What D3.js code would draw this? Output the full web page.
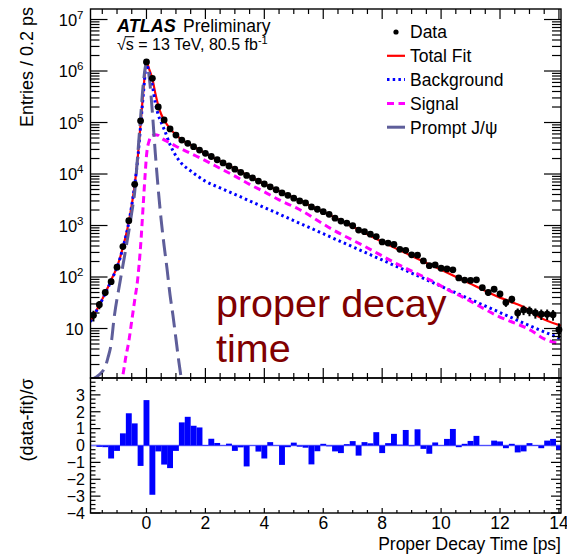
<!DOCTYPE html>
<html><head><meta charset="utf-8">
<script src="https://cdn.jsdelivr.net/npm/d3@7"></script>
<style>
body{margin:0;background:#fff;}
svg{display:block;font-family:"Liberation Sans",Arial,Helvetica,sans-serif;}
</style>
</head><body>
<svg id="c" width="567" height="555"></svg>
<script>
// ---------------- DATA ----------------
const binTime = [-1.8,-1.6,-1.4,-1.2,-1.0,-0.8,-0.6,-0.4,-0.2,0,0.2,0.4,0.6,0.8,1.0,1.2,1.4,1.6,1.8,2.0,2.2,2.4,2.6,2.8,3.0,3.2,3.4,3.6,3.8,4.0,4.2,4.4,4.6,4.8,5.0,5.2,5.4,5.6,5.8,6.0,6.2,6.4,6.6,6.8,7.0,7.2,7.4,7.6,7.8,8.0,8.2,8.4,8.6,8.8,9.0,9.2,9.4,9.6,9.8,10.0,10.2,10.4,10.6,10.8,11.0,11.2,11.4,11.6,11.8,12.0,12.2,12.4,12.6,12.8,13.0,13.2,13.4,13.6,13.8,14.0];
const dataEntries = [18,29,50,81,155,390,1240,6300,108000,1500000,
  720000,200000,112000,75000,57000,45700,39500,33900,29200,25200,
  21900,18900,16400,14300,12400,10800,9400,8400,7300,6400,
  5650,4950,4300,3850,3400,3000,2750,2300,2070,1860,
  1650,1390,1220,1110,990,815,760,680,610,480,
  455,430,345,330,270,265,205,166,172,148,
  143,138,96,87,86,88,62,50,58,47,
  32,37,20,23,22,20,19,19,18.5,9.5];
const pull = [0.0,-0.08,-0.1,-0.77,-0.32,0.72,1.91,1.31,-1.21,2.69,
  -2.92,-0.35,-1.13,-1.34,-0.32,1.37,1.70,1.17,1.07,0.03,
  0.40,0.15,0.02,0.11,-0.32,-0.11,-1.24,0.02,-0.36,-0.77,
  0.20,0.02,-1.15,-0.10,0.17,-0.07,-0.13,-1.12,-0.34,0.10,
  -0.05,-0.35,-0.45,0.08,0.26,-0.60,0.20,0.13,0.79,-0.45,
  0.14,0.69,0.05,0.92,-0.04,0.96,-0.20,-0.49,0.18,0.02,
  0.39,0.98,-0.10,0.10,0.27,0.57,0.02,0.02,0.29,0.24,
  -0.16,0.10,-0.41,-0.35,0.14,0.03,-0.16,0.29,0.39,-0.25];

const totalFitTime = [-1.9,-1.8,-1.7,-1.6,-1.5,-1.4,-1.3,-1.2,-1.1,-1.0,-0.9,-0.8,-0.7,-0.6,-0.5,-0.4,-0.3,-0.2,-0.1,0,0.1,0.2,0.3,0.4,0.5,0.6,0.8,1.0,1.2,1.4,1.6,1.8,2.0,3.0,4.0,5.0,6.0,7.0,8.0,9.0,10.0,11.0,12.0,12.5,12.8,13.3,14.07];
const totalFitValue = [13.8,17.8,22.4,28.8,37.2,49.0,64.6,87.1,115,158,234,380,631,1175,2512,6166,19950,93300,446700,1480000,1050000,708000,372000,214000,144500,112000,75900,57500,46200,39400,33900,29200,25100,12680,6400,3440,1854,944,481,257,138,74.1,39.8,30.9,26.3,17.0,11.3];

const bkgTime = [-1.9,-1.8,-1.7,-1.6,-1.5,-1.4,-1.3,-1.2,-1.1,-1.0,-0.9,-0.8,-0.7,-0.6,-0.5,-0.4,-0.3,-0.2,-0.1,0,0.1,0.2,0.3,0.4,0.5,0.6,0.8,1.0,1.2,1.5,2.0,2.5,3.0,4.0,5.0,6.0,7.0,8.0,9.0,10.0,11.0,12.0,13.0,14.07];
const bkgValue = [13.5,17.4,21.9,28.2,36.3,47.9,63.1,85.1,112,155,229,372,617,1148,2455,6026,19050,85100,398000,1320000,891000,525000,240000,141000,100000,74100,37200,22400,15850,11480,7244,5370,4027,2239,1245,692,385,214,119,66.1,36.7,20.4,11.4,6.3];

const signalTime = [-0.9,-0.8,-0.7,-0.6,-0.5,-0.4,-0.3,-0.2,-0.1,-0.05,0,0.1,0.2,0.3,0.4,0.5,0.75,1.0,1.5,2.0,2.5,3.0,3.5,4.0,4.5,5.16,6.29,7.42,8.55,9.67,10.24,10.8,11.93,13.06,13.5,14.07];
const signalValue = [0.79,1.26,2.82,5.6,14.1,35.5,89,398,3162,8913,22390,45710,56230,57540,56230,50120,41690,34670,25120,18200,12880,9120,6300,4500,3150,2089,851,389,174,85.1,56.2,38.9,17.4,9.12,6.31,5.0];

const promptTime = [-1.9,-1.7,-1.5,-1.4,-1.3,-1.2,-1.1,-0.9,-0.7,-0.5,-0.4,-0.3,-0.2,-0.1,0,0.1,0.2,0.3,0.4,0.5,0.6,0.7,0.8,0.9,1.0,1.1,1.2,1.3];
const promptValue = [1.0,1.15,1.45,1.8,2.8,5.0,15.8,79.4,355,1778,4467,22390,126000,631000,1410000,708000,158500,25120,5012,1259,398,141,44.7,17.8,6.31,2.24,0.89,0.32];

const xTickLabels = [0,2,4,6,8,10,12,14];
const yMainTicks = [10,100,1000,10000,100000,1000000,10000000];
const yMainExp = ["","2","3","4","5","6","7"];
const yRatioTicks = [-4,-3,-2,-1,0,1,2,3];

const legendItems = ["Data","Total Fit","Background","Signal","Prompt J/\u03c8"];

// ---------------- LAYOUT ----------------
const L = 90.5, R = 561, T = 9, MB = 378, RB = 513;
const svg = d3.select("#c");

const x = d3.scaleLinear().domain([-1.9, 14.07]).range([L, R]);
const y = d3.scaleLog().domain([1.094, 1.6e7]).range([MB, T]);
const yr = d3.scaleLinear().domain([-4, 4]).range([RB, MB]);

svg.append("rect").attr("width",567).attr("height",555).attr("fill","#fff");

const defs = svg.append("defs");
defs.append("clipPath").attr("id","cmain").append("rect")
  .attr("x",L).attr("y",T).attr("width",R-L).attr("height",MB-T);
defs.append("clipPath").attr("id","cratio").append("rect")
  .attr("x",L).attr("y",MB).attr("width",R-L).attr("height",RB-MB);

// ---------------- MAIN PANEL ----------------
const gm = svg.append("g").attr("clip-path","url(#cmain)");
const line = d3.line().x(d=>x(d[0])).y(d=>y(d[1])).curve(d3.curveMonotoneX);
const zipT = (t,v)=>t.map((d,i)=>[d,v[i]]);

const curves = [
  {t:totalFitTime, v:totalFitValue, c:"#ff0000", w:2.2, dash:null},
  {t:bkgTime, v:bkgValue, c:"#0000ff", w:3, dash:"2.5,3.2"},
  {t:signalTime, v:signalValue, c:"#ff00ff", w:3, dash:"7,4.5"},
  {t:promptTime, v:promptValue, c:"#5e5e9a", w:3, dash:"17,7"}
];
curves.forEach(cv=>{
  gm.append("path").attr("d", line(zipT(cv.t,cv.v)))
    .attr("fill","none").attr("stroke",cv.c).attr("stroke-width",cv.w)
    .attr("stroke-dasharray",cv.dash);
});

// data points with error bars
binTime.forEach((t,i)=>{
  const n = dataEntries[i], e = Math.sqrt(n);
  gm.append("line").attr("x1",x(t)).attr("x2",x(t))
    .attr("y1",y(n+e)).attr("y2",y(Math.max(n-e,1.1)))
    .attr("stroke","#000").attr("stroke-width",2);
});
binTime.forEach((t,i)=>{
  svg.append("circle").attr("cx",x(t)).attr("cy",y(dataEntries[i])).attr("r",3.4).attr("fill","#000");
});

// frame
svg.append("rect").attr("x",L).attr("y",T).attr("width",R-L).attr("height",MB-T)
  .attr("fill","none").attr("stroke","#000").attr("stroke-width",1.4);

// y ticks (log)
const tk = svg.append("g").attr("stroke","#000").attr("stroke-width",1.2);
for (let d=1; d<=1e7; d*=10){
  for (let m=1; m<=9; m++){
    const v = d*m;
    if (v < y.domain()[0] || v > y.domain()[1]) continue;
    const len = (m===1)?17:9;
    tk.append("line").attr("x1",L).attr("x2",L+len).attr("y1",y(v)).attr("y2",y(v));
    tk.append("line").attr("x1",R).attr("x2",R-len).attr("y1",y(v)).attr("y2",y(v));
  }
}
// x ticks main (top & bottom)
for (let v=-1.5; v<=14.01; v+=0.5){
  const major = Math.abs(v/2 - Math.round(v/2))<1e-6;
  const len = major?10:5;
  tk.append("line").attr("x1",x(v)).attr("x2",x(v)).attr("y1",T).attr("y2",T+len);
  tk.append("line").attr("x1",x(v)).attr("x2",x(v)).attr("y1",MB).attr("y2",MB-len);
}
// y labels
yMainTicks.forEach((v,i)=>{
  const t = svg.append("text").attr("x",L-7).attr("y",y(v)+6)
    .attr("text-anchor","end").attr("font-size",16.5);
  t.append("tspan").text("10");
  if (yMainExp[i]) t.append("tspan").attr("dy",-7).attr("font-size",11.5).text(yMainExp[i]);
});
svg.append("text").attr("transform","translate(33,7) rotate(-90)")
  .attr("text-anchor","end").attr("font-size",18).text("Entries / 0.2 ps");

// ATLAS label
svg.append("text").attr("x",117).attr("y",32).attr("font-size",18)
  .attr("font-weight","bold").attr("font-style","italic").text("ATLAS");
svg.append("text").attr("x",183).attr("y",31.5).attr("font-size",17.5).text("Preliminary");
const lumi = svg.append("text").attr("x",117).attr("y",49.5).attr("font-size",16);
lumi.append("tspan").text("\u221as = 13 TeV, 80.5 fb");
lumi.append("tspan").attr("dy",-5.5).attr("font-size",11).text("-1");
{
  const node = lumi.node();
  const w0 = node.getSubStringLength(0,1), w1 = node.getSubStringLength(1,1);
  svg.append("line").attr("x1",117+w0-1).attr("x2",117+w0+w1+0.5)
    .attr("y1",49.5-12.8).attr("y2",49.5-12.8).attr("stroke","#000").attr("stroke-width",1.1);
}

// legend
const lg = svg.append("g");
const lx0 = 387, lx1 = 405, ltx = 410, ly0 = 32, ldy = 23.8;
legendItems.forEach((name,i)=>{
  const yy = ly0 + i*ldy;
  if (i===0) lg.append("circle").attr("cx",396).attr("cy",yy).attr("r",2.6).attr("fill","#000");
  else {
    const cv = curves[i-1];
    lg.append("line").attr("x1",lx0).attr("x2",lx1).attr("y1",yy).attr("y2",yy)
      .attr("stroke",cv.c).attr("stroke-width",cv.w)
      .attr("stroke-dasharray", i===4?null:cv.dash);
  }
  lg.append("text").attr("x",ltx).attr("y",yy+6.3).attr("font-size",17.5).text(name);
});

// overlay text
svg.append("text").attr("x",216).attr("y",317).attr("font-size",39.5).attr("fill","#800000").text("proper decay");
svg.append("text").attr("x",216).attr("y",361.5).attr("font-size",39.5).attr("fill","#800000").text("time");

// ---------------- RATIO PANEL ----------------
const gr = svg.append("g").attr("clip-path","url(#cratio)");
gr.append("line").attr("x1",L).attr("x2",R).attr("y1",yr(0)).attr("y2",yr(0))
  .attr("stroke","#7777ff").attr("stroke-width",1.3);
binTime.forEach((t,i)=>{
  const v = pull[i];
  gr.append("rect").attr("x",x(t-0.1)).attr("width",x(t+0.1)-x(t-0.1))
    .attr("y",Math.min(yr(v),yr(0))).attr("height",Math.abs(yr(v)-yr(0)))
    .attr("fill","#0000ff");
});
svg.append("rect").attr("x",L).attr("y",MB).attr("width",R-L).attr("height",RB-MB)
  .attr("fill","none").attr("stroke","#000").attr("stroke-width",1.4);
for (let v=-4; v<=4.001; v+=0.25){
  const major = Math.abs(v-Math.round(v))<1e-6;
  const len = major?10:5;
  tk.append("line").attr("x1",L).attr("x2",L+len).attr("y1",yr(v)).attr("y2",yr(v));
  tk.append("line").attr("x1",R).attr("x2",R-len).attr("y1",yr(v)).attr("y2",yr(v));
}
for (let v=-1.5; v<=14.01; v+=0.5){
  const major = Math.abs(v/2 - Math.round(v/2))<1e-6;
  const len = major?5:3;
  tk.append("line").attr("x1",x(v)).attr("x2",x(v)).attr("y1",RB).attr("y2",RB-len);
  tk.append("line").attr("x1",x(v)).attr("x2",x(v)).attr("y1",MB).attr("y2",MB+len);
}
yRatioTicks.forEach(v=>{
  svg.append("text").attr("x",85).attr("y",yr(v)+5.8).attr("text-anchor","end")
    .attr("font-size",16).text(v<0?"\u2212"+Math.abs(v):String(v));
});
xTickLabels.forEach(v=>{
  svg.append("text").attr("x",x(v)).attr("y",529).attr("text-anchor","middle")
    .attr("font-size",17.5).text(String(v));
});
svg.append("text").attr("x",561).attr("y",550).attr("text-anchor","end")
  .attr("font-size",17.5).text("Proper Decay Time [ps]");
svg.append("text").attr("transform","translate(33,420) rotate(-90)")
  .attr("text-anchor","middle").attr("font-size",18).text("(data-fit)/\u03c3");
</script>
</body></html>
